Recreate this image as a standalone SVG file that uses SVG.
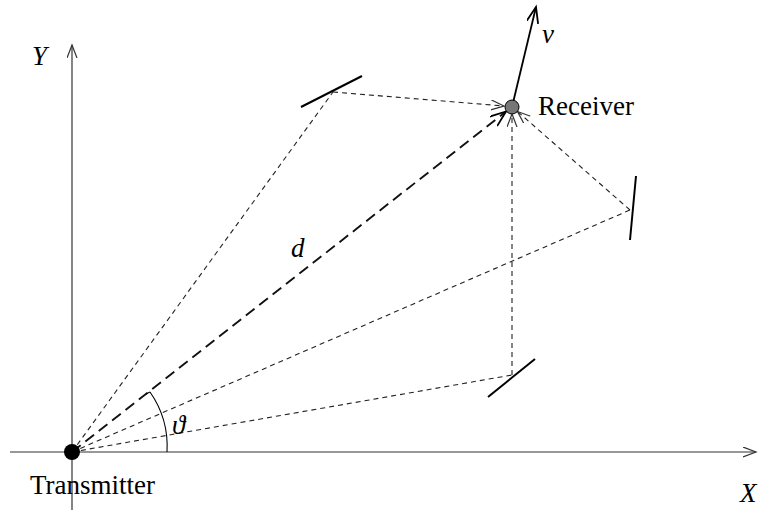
<svg xmlns="http://www.w3.org/2000/svg" width="764" height="511" viewBox="0 0 764 511">
<style>
  .axis{stroke:#333;stroke-width:1.2;fill:none}
  .mirror{stroke:#000;stroke-width:2;fill:none}
  .ray{stroke:#222;stroke-width:1.1;stroke-dasharray:5 4;fill:none}
  .direct{stroke:#111;stroke-width:1.9;stroke-dasharray:11 6;fill:none}
  .lbl{font-family:"Liberation Serif","Times New Roman",serif;font-size:27px;fill:#000}
  .it{font-style:italic}
</style>
<defs>
  <marker id="ah" markerUnits="userSpaceOnUse" markerWidth="16" markerHeight="12" refX="13" refY="5" orient="auto">
    <path d="M0,0 L13,5 L0,10" fill="none" stroke="#333" stroke-width="1.2"/>
  </marker>
  <marker id="ahk" markerUnits="userSpaceOnUse" markerWidth="20" markerHeight="14" refX="16" refY="6" orient="auto">
    <path d="M0,0 L16,6 L0,12" fill="none" stroke="#000" stroke-width="1.8"/>
  </marker>
</defs>
<g id="axes">
  <line class="axis" x1="10" y1="452" x2="756" y2="452" marker-end="url(#ah)"/>
  <line class="axis" x1="72" y1="510" x2="72" y2="45" marker-end="url(#ah)"/>
  <text class="lbl it" x="32" y="65">Y</text>
  <text class="lbl it" x="740" y="502">X</text>
</g>
<g id="connectors">
  <path class="ray" d="M72,452 L333,92"/>
  <path class="ray" d="M333,92 L504,106" marker-end="url(#ah)"/>
  <path class="ray" d="M72,452 L630,210"/>
  <path class="ray" d="M630,210 L517.5,111.5" marker-end="url(#ah)"/>
  <path class="ray" d="M72,452 L512,375"/>
  <path class="ray" d="M512,375 L512,114" marker-end="url(#ah)"/>
  <path class="direct" d="M72,452 L506,111.5" marker-end="url(#ahk)"/>
  <path d="M512,107 L536,7" stroke="#000" stroke-width="1.8" fill="none" marker-end="url(#ahk)"/>
</g>
<g id="mirror1"><line class="mirror" x1="301" y1="107" x2="362" y2="76"/></g>
<g id="mirror2"><line class="mirror" x1="636" y1="176" x2="630" y2="240"/></g>
<g id="mirror3"><line class="mirror" x1="535" y1="359" x2="488" y2="397"/></g>
<g id="angle">
  <path d="M167,452 A95,95 0 0 0 150,392" stroke="#000" stroke-width="1.1" fill="none"/>
  <line x1="150" y1="392" x2="146" y2="394" stroke="#000" stroke-width="1.1"/>
  <text class="lbl it" x="172" y="434">ϑ</text>
</g>
<g id="distance"><text class="lbl it" x="291" y="257">d</text></g>
<g id="transmitter">
  <circle cx="72" cy="452" r="8" fill="#000"/>
  <text class="lbl" x="30" y="494">Transmitter</text>
</g>
<g id="receiver">
  <circle cx="512" cy="107" r="7" fill="#777" stroke="#000" stroke-width="1"/>
  <text class="lbl" x="538" y="115">Receiver</text>
  <text class="lbl it" x="542" y="43">v</text>
</g>
</svg>
